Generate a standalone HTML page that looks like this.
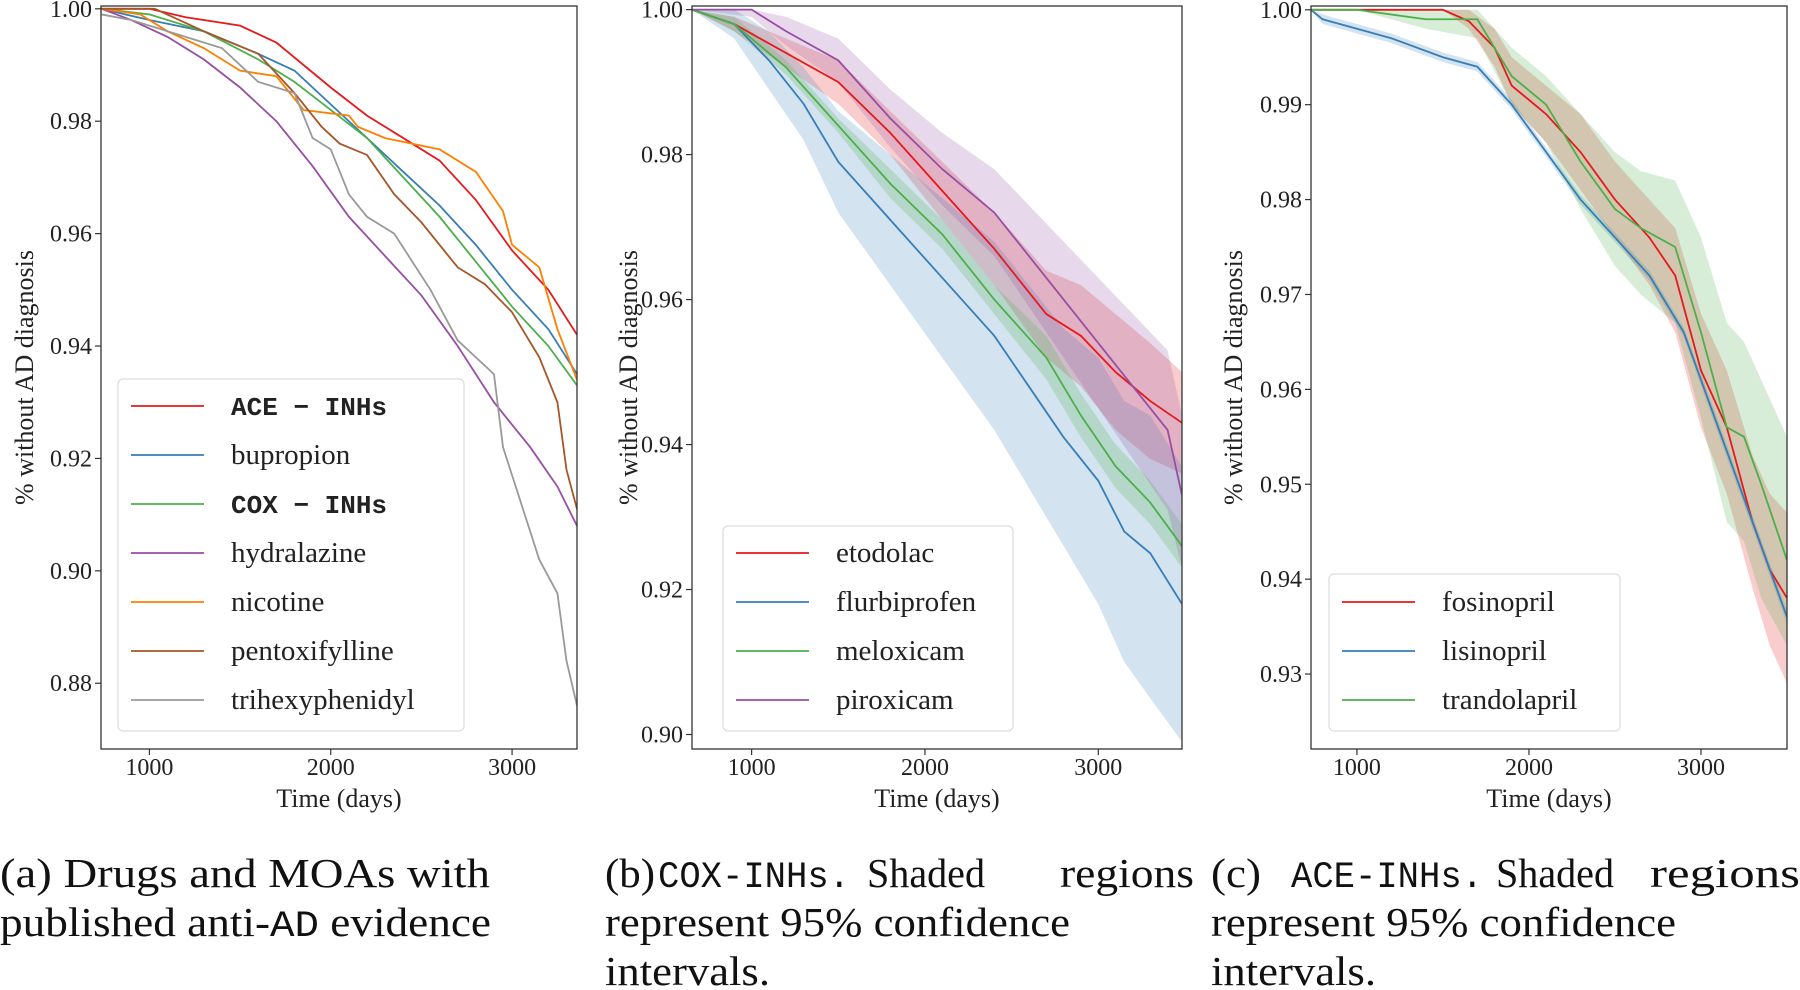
<!DOCTYPE html>
<html><head><meta charset="utf-8"><style>
html,body{margin:0;padding:0;background:#fff;}
svg{display:block;font-family:"Liberation Serif",serif;}
</style></head><body>
<svg id="fig" width="1800" height="990" viewBox="0 0 1800 990" xmlns="http://www.w3.org/2000/svg"></svg>
<script>
// ---- Panel A data ----
const aNames = ["ACE \u2212 INHs","bupropion","COX \u2212 INHs","hydralazine","nicotine","pentoxifylline","trihexyphenidyl"];
const aMono = [true,false,true,false,false,false,false];
const aColors = ["#e41a1c","#377eb8","#4daf4a","#984ea3","#ff7f00","#a65628","#999999"];
const aDays = [
 [736,1000,1200,1500,1700,2000,2200,2400,2600,2800,3000,3200,3358],
 [736,1000,1300,1600,1800,2000,2200,2400,2600,2800,3000,3200,3358],
 [736,1000,1300,1600,1800,2000,2200,2400,2600,2800,3000,3200,3358],
 [736,900,1100,1300,1500,1700,1900,2100,2300,2500,2700,2900,3100,3250,3358],
 [736,950,1100,1300,1500,1700,1850,2100,2150,2300,2600,2800,2950,3000,3150,3250,3358],
 [736,1030,1300,1600,1800,1950,2050,2200,2350,2500,2700,2850,3000,3150,3250,3300,3358],
 [736,900,1100,1400,1600,1800,1900,2000,2100,2200,2350,2450,2550,2700,2900,2950,3050,3150,3250,3300,3358]
];
const aVals = [
 [1.0,1.0,0.9985,0.997,0.994,0.986,0.981,0.977,0.973,0.966,0.957,0.950,0.942],
 [1.0,0.998,0.996,0.992,0.989,0.983,0.977,0.971,0.965,0.958,0.950,0.943,0.935],
 [1.0,0.999,0.996,0.991,0.987,0.982,0.977,0.970,0.963,0.955,0.947,0.940,0.933],
 [1.0,0.998,0.995,0.991,0.986,0.980,0.972,0.963,0.956,0.949,0.940,0.930,0.922,0.915,0.908],
 [1.0,0.999,0.996,0.993,0.989,0.988,0.982,0.981,0.979,0.977,0.975,0.971,0.964,0.958,0.954,0.943,0.934],
 [1.0,1.0,0.996,0.992,0.985,0.979,0.976,0.974,0.967,0.962,0.954,0.951,0.946,0.938,0.930,0.918,0.911],
 [0.999,0.998,0.996,0.993,0.987,0.985,0.977,0.975,0.967,0.963,0.960,0.955,0.950,0.941,0.935,0.922,0.912,0.902,0.896,0.884,0.876]
];
const aYTicks = [0.88,0.90,0.92,0.94,0.96,0.98,1.00];
const aYTickLabels = ["0.88","0.90","0.92","0.94","0.96","0.98","1.00"];
const xTicks = [1000,2000,3000];
const xTickLabels = ["1000","2000","3000"];

// ---- Panel B data ----
const bNames = ["etodolac","flurbiprofen","meloxicam","piroxicam"];
const bColors = ["#e41a1c","#377eb8","#4daf4a","#984ea3"];
const bDays = [
 [656,900,1200,1500,1800,2100,2400,2700,2900,3100,3300,3483],
 [656,900,1100,1300,1500,1800,2100,2400,2600,2800,3000,3150,3300,3483],
 [656,900,1200,1500,1800,2100,2400,2700,2900,3100,3300,3483],
 [656,1000,1200,1500,1800,2100,2400,2600,2800,3000,3200,3400,3483]
];
const bVals = [
 [1.0,0.998,0.994,0.990,0.983,0.975,0.967,0.958,0.955,0.950,0.946,0.943],
 [1.0,0.998,0.993,0.987,0.979,0.971,0.963,0.955,0.948,0.941,0.935,0.928,0.925,0.918],
 [1.0,0.998,0.992,0.984,0.976,0.969,0.960,0.952,0.944,0.937,0.932,0.926],
 [1.0,1.0,0.997,0.993,0.985,0.978,0.972,0.966,0.960,0.954,0.948,0.942,0.933]
];
const bLow = [
 [1.0,0.997,0.992,0.987,0.980,0.971,0.962,0.952,0.948,0.942,0.938,0.936],
 [1.0,0.996,0.989,0.982,0.972,0.962,0.952,0.942,0.934,0.926,0.918,0.910,0.905,0.899],
 [1.0,0.997,0.991,0.983,0.974,0.967,0.958,0.949,0.941,0.934,0.929,0.923],
 [1.0,0.999,0.995,0.990,0.981,0.973,0.966,0.959,0.952,0.945,0.938,0.931,0.923]
];
const bHigh = [
 [1.0,0.999,0.996,0.993,0.986,0.979,0.972,0.964,0.962,0.958,0.954,0.950],
 [1.0,1.0,0.997,0.992,0.986,0.980,0.974,0.968,0.962,0.956,0.952,0.946,0.944,0.937],
 [1.0,0.999,0.993,0.985,0.978,0.971,0.962,0.955,0.947,0.940,0.935,0.929],
 [1.0,1.0,0.999,0.996,0.989,0.983,0.978,0.973,0.968,0.963,0.958,0.953,0.944]
];
const bYTicks = [0.90,0.92,0.94,0.96,0.98,1.00];
const bYTickLabels = ["0.90","0.92","0.94","0.96","0.98","1.00"];

// ---- Panel C data ----
const cNames = ["fosinopril","lisinopril","trandolapril"];
const cColors = ["#e41a1c","#377eb8","#4daf4a"];
const cDays = [
 [733,1500,1650,1800,1900,2100,2300,2500,2700,2850,3000,3150,3300,3400,3500],
 [733,800,1000,1200,1500,1700,1900,2100,2300,2500,2700,2900,3100,3300,3500],
 [733,1000,1400,1700,1900,2100,2300,2500,2650,2850,3000,3150,3250,3350,3500]
];
const cVals = [
 [1.0,1.0,0.9988,0.996,0.992,0.989,0.985,0.980,0.976,0.972,0.962,0.956,0.946,0.941,0.938],
 [1.0,0.999,0.998,0.997,0.995,0.994,0.990,0.985,0.980,0.976,0.972,0.966,0.956,0.946,0.936],
 [1.0,1.0,0.999,0.999,0.993,0.990,0.984,0.979,0.977,0.975,0.966,0.956,0.955,0.950,0.942]
];
const cLow = [
 [1.0,1.0,0.998,0.994,0.990,0.986,0.981,0.976,0.971,0.966,0.956,0.949,0.939,0.933,0.929],
 [1.0,0.9985,0.9975,0.9965,0.9945,0.9935,0.9895,0.9845,0.9795,0.9755,0.9715,0.9655,0.9553,0.9453,0.9353],
 [1.0,1.0,0.998,0.997,0.990,0.986,0.979,0.973,0.970,0.967,0.957,0.946,0.944,0.938,0.933]
];
const cHigh = [
 [1.0,1.0,1.0,0.998,0.995,0.992,0.989,0.984,0.980,0.977,0.968,0.962,0.953,0.949,0.947],
 [1.0,0.9995,0.9985,0.9975,0.9955,0.9945,0.9905,0.9855,0.9805,0.9765,0.9725,0.9665,0.9567,0.9467,0.9367],
 [1.0,1.0,1.0,1.0,0.996,0.993,0.989,0.985,0.983,0.982,0.976,0.967,0.965,0.961,0.955]
];
const cYTicks = [0.93,0.94,0.95,0.96,0.97,0.98,0.99,1.00];
const cYTickLabels = ["0.93","0.94","0.95","0.96","0.97","0.98","0.99","1.00"];

const NS = "http://www.w3.org/2000/svg";
const svg = document.getElementById("fig");
function mk(tag, attrs, parent){
  const e = document.createElementNS(NS, tag);
  for (const k in attrs) e.setAttribute(k, attrs[k]);
  (parent||svg).appendChild(e);
  return e;
}

function panel(p){
  const g = mk("g", {});
  
  
  const xs = d => p.L + (d - p.x0) / (p.x1 - p.x0) * (p.R - p.L);
  const ys = v => p.B - (v - p.y0) / (p.y1 - p.y0) * (p.B - p.T);
  const clip = mk("clipPath", {id: p.id + "clip"}, g);
  mk("rect", {x:p.L, y:p.T, width:p.R-p.L, height:p.B-p.T}, clip);
  const plot = mk("g", {"clip-path":"url(#"+p.id+"clip)"}, g);
  if (p.low) {
    p.days.forEach((ds, i) => {
      let pts = ds.map((d, j) => xs(d) + "," + ys(p.high[i][j]));
      pts = pts.concat(ds.map((d, j) => xs(d) + "," + ys(p.low[i][j])).reverse());
      const band = mk("polygon", {points: pts.join(" "), fill: p.colors[i], "fill-opacity": 0.22, stroke: "none"}, plot);
      
      
    });
  }
  p.days.forEach((ds, i) => {
    const pts = ds.map((d, j) => xs(d) + "," + ys(p.vals[i][j])).join(" ");
    const line = mk("polyline", {points: pts, fill: "none", stroke: p.colors[i], "stroke-width": 1.8}, plot);
    
    
  });
  const fr = mk("rect", {x:p.L, y:p.T, width:p.R-p.L, height:p.B-p.T, fill:"none", stroke:"#333", "stroke-width":1.3}, g);
  
  
  p.yTicks.forEach((t, i) => {
    const y = ys(t);
    mk("line", {x1:p.L-6, x2:p.L, y1:y, y2:y, stroke:"#333", "stroke-width":1.2}, g);
    const tx = mk("text", {x:p.L-9, y:y+8, "text-anchor":"end", "font-size":24, fill:"#222"}, g);
    tx.textContent = p.yLabels[i];
    
    
  });
  xTicks.forEach((t, i) => {
    const x = xs(t);
    mk("line", {x1:x, x2:x, y1:p.B, y2:p.B+6, stroke:"#333", "stroke-width":1.2}, g);
    const tx = mk("text", {x:x, y:p.B+26, "text-anchor":"middle", "font-size":24, fill:"#222"}, g);
    tx.textContent = xTickLabels[i];
    
    
  });
  const xt = mk("text", {x:(p.L+p.R)/2, y:807, "text-anchor":"middle", "font-size":26, fill:"#222"}, g);
  xt.textContent = "Time (days)";
  
  
  const yt = mk("text", {x:0, y:0, "text-anchor":"middle", "font-size":26, fill:"#222", transform:"translate("+(p.yTitleX)+","+((p.T+p.B)/2)+") rotate(-90)"}, g);
  yt.textContent = "% without AD diagnosis";
  
  
  const lg = mk("g", {}, g);
  
  
  mk("rect", {x:p.lg.x, y:p.lg.y, width:p.lg.w, height:p.lg.h, rx:5, fill:"#fff", "fill-opacity":0.85, stroke:"#ddd", "stroke-width":1.2}, lg);
  p.names.forEach((n, i) => {
    const y = p.lg.first + i * 49;
    const e = mk("g", {}, lg);
    
    
    mk("line", {x1:p.lg.x+13, x2:p.lg.x+86, y1:y, y2:y, stroke:p.colors[i], "stroke-width":1.8}, e);
    const tx = mk("text", {x:p.lg.x+113, y:y+9, "font-size":29, fill:"#222"}, e);
    if (p.mono && p.mono[i]) { tx.setAttribute("font-family", "Liberation Mono, monospace"); tx.setAttribute("font-weight","bold"); tx.setAttribute("font-size", 26); }
    tx.textContent = n;
  });
}

panel({id:"a", L:101, R:577, T:6, B:749, x0:733, x1:3358, y0:0.8683, y1:1.0005,
  days:aDays, vals:aVals, colors:aColors, names:aNames, mono:aMono,
  yTicks:aYTicks, yLabels:aYTickLabels, yTitleX:33,
  lg:{x:118, y:379, w:346, h:352, first:406}});
panel({id:"b", L:692, R:1182, T:6, B:749, x0:656, x1:3483, y0:0.898, y1:1.0005,
  days:bDays, vals:bVals, low:bLow, high:bHigh, colors:bColors, names:bNames,
  yTicks:bYTicks, yLabels:bYTickLabels, yTitleX:637,
  lg:{x:723, y:526, w:290, h:205, first:553}});
panel({id:"c", L:1311, R:1787, T:6, B:749, x0:733, x1:3500, y0:0.9221, y1:1.0004,
  days:cDays, vals:cVals, low:cLow, high:cHigh, colors:cColors, names:cNames,
  yTicks:cYTicks, yLabels:cYTickLabels, yTitleX:1242,
  lg:{x:1329, y:574, w:291, h:157, first:602}});

function word(txt, x, y, w, mono, name){
  const t = mk("text", {x:x, y:y, "font-size":41, fill:"#111", textLength:w, lengthAdjust:"spacingAndGlyphs"});
  if (mono) { t.setAttribute("font-family","Liberation Mono, monospace"); t.setAttribute("font-size", 37); }
  t.textContent = txt;
  
  
  return t;
}
word("(a) Drugs and MOAs with", 0, 887, 490, false, 'caption-a');
const ca2 = mk("text", {x:0, y:936, "font-size":41, fill:"#111", textLength:491, lengthAdjust:"spacingAndGlyphs"});


ca2.innerHTML = 'published anti-<tspan font-family="Liberation Mono, monospace" font-size="37">AD</tspan> evidence';

word("(b)", 605, 887, 50, false, 'caption-b');
word("COX-INHs.", 658, 887, 192, true, 'caption-b');
word("Shaded", 867, 887, 118, false, 'caption-b');
word("regions", 1060, 887, 134, false, 'caption-b');
word("represent 95% confidence", 605, 936, 465, false, 'caption-b');
word("intervals.", 605, 985, 165, false, 'caption-b');

word("(c)", 1211, 887, 50, false, 'caption-c');
word("ACE-INHs.", 1291, 887, 192, true, 'caption-c');
word("Shaded", 1496, 887, 118, false, 'caption-c');
word("regions", 1650, 887, 150, false, 'caption-c');
word("represent 95% confidence", 1211, 936, 465, false, 'caption-c');
word("intervals.", 1211, 985, 165, false, 'caption-c');
</script>
</body></html>
